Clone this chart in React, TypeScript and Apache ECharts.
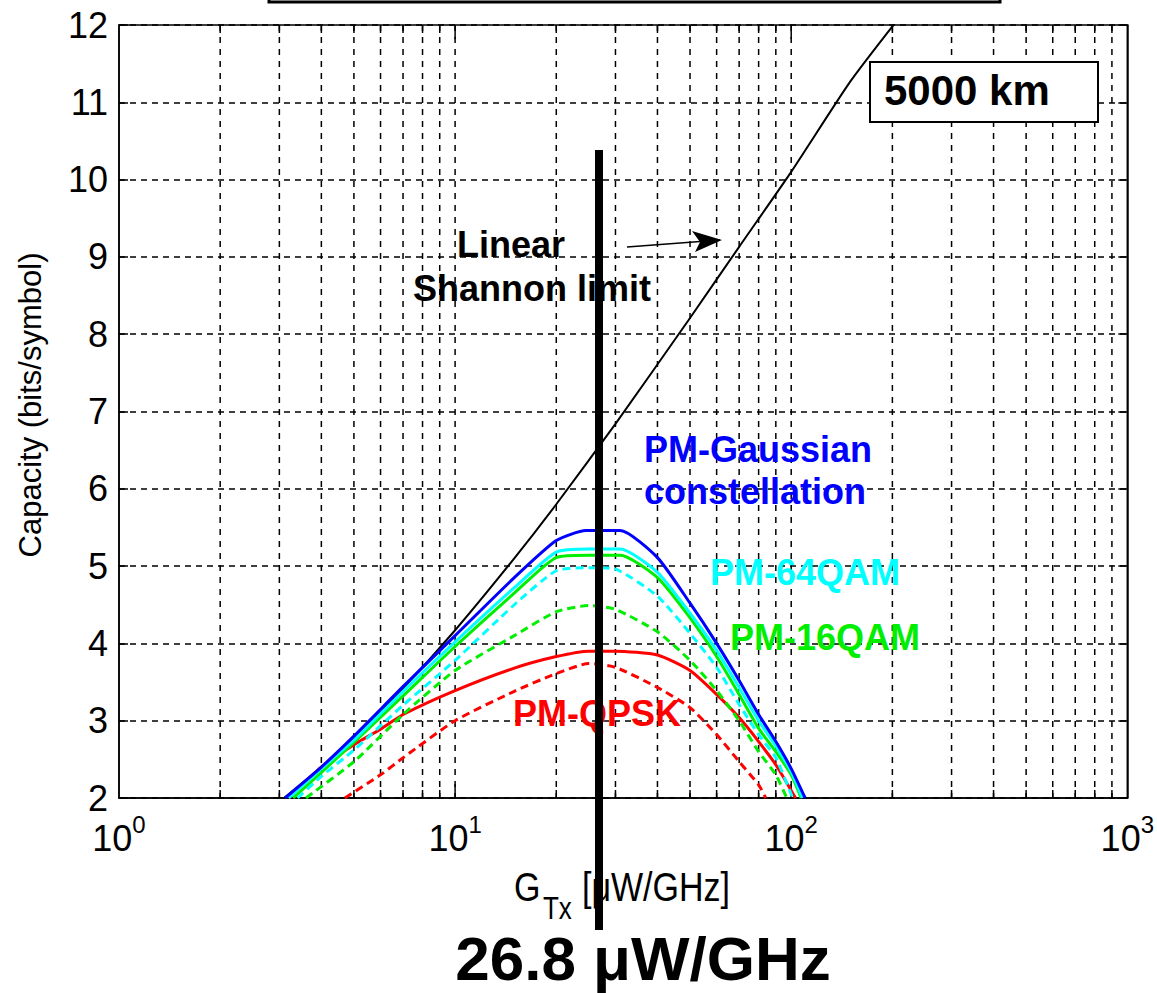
import React, { useEffect, useRef } from "react";
import * as echarts from "echarts";

// ---------- data ----------
const X_MIN = 1;
const X_MAX = 1000;
const Y_MIN = 2;
const Y_MAX = 12;
const X_GRID = [2, 3, 4, 5, 6, 7, 8, 9, 10, 20, 30, 40, 50, 60, 70, 80, 90, 100, 200, 300, 400, 500, 600, 700, 800, 900];
const X_MAJOR = [10, 100];

const G_SHANNON = [3.1, 4, 5, 7, 10, 15, 20, 30, 50, 70, 100, 150, 210];
const C_SHANNON = [2.0, 2.4, 2.78, 3.42, 4.17, 5.1, 5.8, 6.84, 8.21, 9.13, 10.1, 11.27, 12.1];

const G_GAUSS = [3.12, 4, 5, 7, 10, 15, 20, 24.5, 31, 40, 50, 60, 70, 80, 90, 100, 110];
const C_GAUSS = [2.0, 2.4, 2.8, 3.44, 4.1, 4.85, 5.33, 5.46, 5.46, 5.11, 4.52, 4.0, 3.52, 3.08, 2.73, 2.38, 2.0];

const G_64 = [3.2, 4, 5, 7, 10, 15, 20, 25, 31, 40, 50, 60, 70, 80, 90, 100, 108];
const C_64 = [2.0, 2.38, 2.75, 3.38, 4.02, 4.72, 5.18, 5.22, 5.22, 4.92, 4.39, 3.91, 3.43, 3.0, 2.67, 2.34, 2.0];

const G_64D = [3.4, 4, 5, 7, 10, 15, 20, 25, 30, 40, 50, 60, 70, 80, 90, 101];
const C_64D = [2.0, 2.28, 2.62, 3.2, 3.78, 4.5, 4.94, 4.98, 4.96, 4.61, 4.13, 3.69, 3.21, 2.82, 2.52, 2.0];

const G_16 = [3.3, 4, 5, 7, 10, 15, 20, 25, 31, 40, 50, 60, 70, 80, 90, 100, 107];
const C_16 = [2.0, 2.33, 2.72, 3.32, 3.96, 4.65, 5.11, 5.14, 5.14, 4.85, 4.33, 3.83, 3.34, 2.9, 2.6, 2.3, 2.0];

const G_16D = [3.6, 5, 7, 10, 15, 20, 25, 30, 40, 50, 60, 70, 80, 90, 97];
const C_16D = [2.0, 2.47, 3.08, 3.65, 4.1, 4.41, 4.49, 4.44, 4.15, 3.78, 3.39, 3.0, 2.6, 2.3, 2.0];

const G_QPSK = [3.2, 4, 5, 6, 7, 10, 15, 20, 25, 30, 40, 50, 60, 70, 80, 90, 103];
const C_QPSK = [2.0, 2.4, 2.69, 2.89, 3.08, 3.39, 3.68, 3.83, 3.9, 3.9, 3.85, 3.65, 3.34, 3.04, 2.73, 2.43, 2.0];

const G_QPSKD = [4.7, 6, 7, 10, 15, 20, 25, 30, 40, 50, 60, 70, 80, 84];
const C_QPSKD = [2.0, 2.3, 2.52, 3.0, 3.38, 3.61, 3.74, 3.69, 3.43, 3.17, 2.82, 2.47, 2.17, 2.0];

const MARKER_G = 26.8;
const MARKER_LABEL = "26.8 \u03bcW/GHz";

const zip = (xs: number[], ys: number[]) => xs.map((x, i) => [x, ys[i]]);

const FONT = '"Liberation Sans", Arial, sans-serif';

export default function App() {
  const ref = useRef<HTMLDivElement>(null);

  useEffect(() => {
    if (!ref.current) return;
    const chart = echarts.init(ref.current, undefined, { renderer: "svg" });

    const line = (name: string, data: number[][], color: string, dashed: boolean, width = 3, z = 3) => ({
      name,
      type: "line",
      data,
      symbol: "none",
      smooth: 0.2,
      clip: true,
      z,
      lineStyle: { color, width, type: dashed ? [8, 5] : "solid" },
    });

    const option: any = {
      animation: false,
      backgroundColor: "#fff",
      textStyle: { fontFamily: FONT },
      grid: {
        left: 119,
        right: 22,
        top: 25,
        bottom: 195,
        show: true,
        borderColor: "#000",
        borderWidth: 1.5,
        backgroundColor: "transparent",
      },
      xAxis: {
        type: "log",
        logBase: 10,
        min: X_MIN,
        max: X_MAX,
        axisLine: { show: true, lineStyle: { color: "#000", width: 1.5 } },
        axisTick: { show: false },
        splitLine: { show: false },
        axisLabel: {
          margin: 14,
          formatter: (v: number) => `{b|10}{s|${Math.round(Math.log10(v))}}`,
          rich: {
            b: { fontSize: 36, fontFamily: FONT, color: "#000", lineHeight: 44, verticalAlign: "bottom" },
            s: { fontSize: 24, fontFamily: FONT, color: "#000", lineHeight: 26, verticalAlign: "top" },
          },
        },
      },
      yAxis: [
        {
          type: "value",
          min: Y_MIN,
          max: Y_MAX,
          interval: 1,
          axisLine: { show: true, lineStyle: { color: "#000", width: 1.5 } },
          axisTick: { show: true, inside: true, length: 9, lineStyle: { color: "#000", width: 1.5 } },
          axisLabel: { fontSize: 36, color: "#000", fontFamily: FONT, margin: 11 },
          splitLine: { show: true, lineStyle: { color: "#000", width: 1.5, type: [6, 5] } },
        },
        {
          type: "value",
          position: "right",
          min: Y_MIN,
          max: Y_MAX,
          interval: 1,
          axisLine: { show: true, lineStyle: { color: "#000", width: 1.5 } },
          axisTick: { show: true, inside: true, length: 9, lineStyle: { color: "#000", width: 1.5 } },
          axisLabel: { show: false },
          splitLine: { show: false },
        },
      ],
      series: [
        {
          name: "xgrid",
          type: "custom",
          z: 1,
          silent: true,
          encode: { x: 0, y: 1 },
          data: X_GRID.map((v) => [v, Y_MIN]),
          renderItem: (params: any, api: any) => {
            const v = api.value(0);
            const top = api.coord([v, Y_MAX]);
            const bot = api.coord([v, Y_MIN]);
            const tl = X_MAJOR.includes(v) ? 14 : 8;
            return {
              type: "group",
              children: [
                {
                  type: "line",
                  shape: { x1: top[0], y1: top[1], x2: bot[0], y2: bot[1] },
                  style: { stroke: "#000", lineWidth: 1.5, lineDash: [6, 6] },
                },
                {
                  type: "line",
                  shape: { x1: bot[0], y1: bot[1], x2: bot[0], y2: bot[1] - tl },
                  style: { stroke: "#000", lineWidth: 1.5 },
                },
                {
                  type: "line",
                  shape: { x1: top[0], y1: top[1], x2: top[0], y2: top[1] + tl },
                  style: { stroke: "#000", lineWidth: 1.5 },
                },
              ],
            };
          },
        },
        line("Linear Shannon limit", zip(G_SHANNON, C_SHANNON), "#000000", false, 2, 3),
        line("PM-QPSK dashed", zip(G_QPSKD, C_QPSKD), "#ff0000", true),
        line("PM-QPSK", zip(G_QPSK, C_QPSK), "#ff0000", false),
        line("PM-16QAM dashed", zip(G_16D, C_16D), "#00ee00", true),
        line("PM-16QAM", zip(G_16, C_16), "#00ee00", false),
        line("PM-64QAM dashed", zip(G_64D, C_64D), "#00ffff", true),
        line("PM-64QAM", zip(G_64, C_64), "#00ffff", false),
        line("PM-Gaussian", zip(G_GAUSS, C_GAUSS), "#0000ff", false, 3, 4),
      ],
    };

    chart.setOption(option);

    const mx = chart.convertToPixel({ xAxisIndex: 0 }, MARKER_G) as number;

    const bold = (text: string, x: number, y: number, fill: string, size = 36, align = "left") => ({
      type: "text",
      x,
      y,
      z: 50,
      style: {
        text,
        fill,
        fontSize: size,
        fontWeight: "bold",
        fontFamily: FONT,
        align,
        verticalAlign: "top",
      },
    });

    const plain = (text: string, x: number, y: number, size: number) => ({
      type: "text",
      x,
      y,
      scaleY: 1.2,
      z: 50,
      style: { text, fill: "#000", fontSize: size, fontFamily: FONT, align: "left", verticalAlign: "top" },
    });

    chart.setOption({
      graphic: [
        // partial box at the very top
        {
          type: "rect",
          z: 40,
          shape: { x: 269, y: -20, width: 731, height: 22 },
          style: { fill: "#fff", stroke: "#000", lineWidth: 3 },
        },
        // 5000 km box
        {
          type: "rect",
          z: 40,
          shape: { x: 870, y: 62, width: 228, height: 60 },
          style: { fill: "#fff", stroke: "#000", lineWidth: 2 },
        },
        bold("5000 km", 884, 69, "#000", 42),
        bold("Linear", 457, 226, "#000"),
        bold("Shannon limit", 413, 270, "#000"),
        bold("PM-Gaussian", 644, 431, "#0000ff"),
        bold("constellation", 644, 473, "#0000ff"),
        bold("PM-64QAM", 710, 554, "#00ffff"),
        bold("PM-16QAM", 730, 619, "#00ee00"),
        bold("PM-QPSK", 513, 695, "#ff0000"),
        // arrow
        {
          type: "line",
          z: 45,
          shape: { x1: 627, y1: 247, x2: 720, y2: 240 },
          style: { stroke: "#000", lineWidth: 1.5 },
        },
        {
          type: "polygon",
          z: 45,
          shape: { points: [[722, 240], [692, 231], [700, 242], [695, 252]] },
          style: { fill: "#000" },
        },
        // axis names
        {
          type: "text",
          x: 30,
          y: 405,
          rotation: Math.PI / 2,
          z: 50,
          style: {
            text: "Capacity (bits/symbol)",
            fill: "#000",
            fontSize: 31,
            fontFamily: FONT,
            align: "center",
            verticalAlign: "middle",
          },
        },
        plain("G", 514, 866, 34),
        plain("Tx", 543, 893, 26),
        plain("[\u03bcW/GHz]", 582, 866, 34),
        // marker line
        {
          type: "line",
          z: 60,
          shape: { x1: mx, y1: 150, x2: mx, y2: 930 },
          style: { stroke: "#000", lineWidth: 8 },
        },
        bold(MARKER_LABEL, 643, 927, "#000", 62, "center"),
      ],
    });

    return () => chart.dispose();
  }, []);

  return (
    <div
      ref={ref}
      style={{ position: "fixed", left: 0, top: 0, width: 1157, height: 993, background: "#fff" }}
    />
  );
}
